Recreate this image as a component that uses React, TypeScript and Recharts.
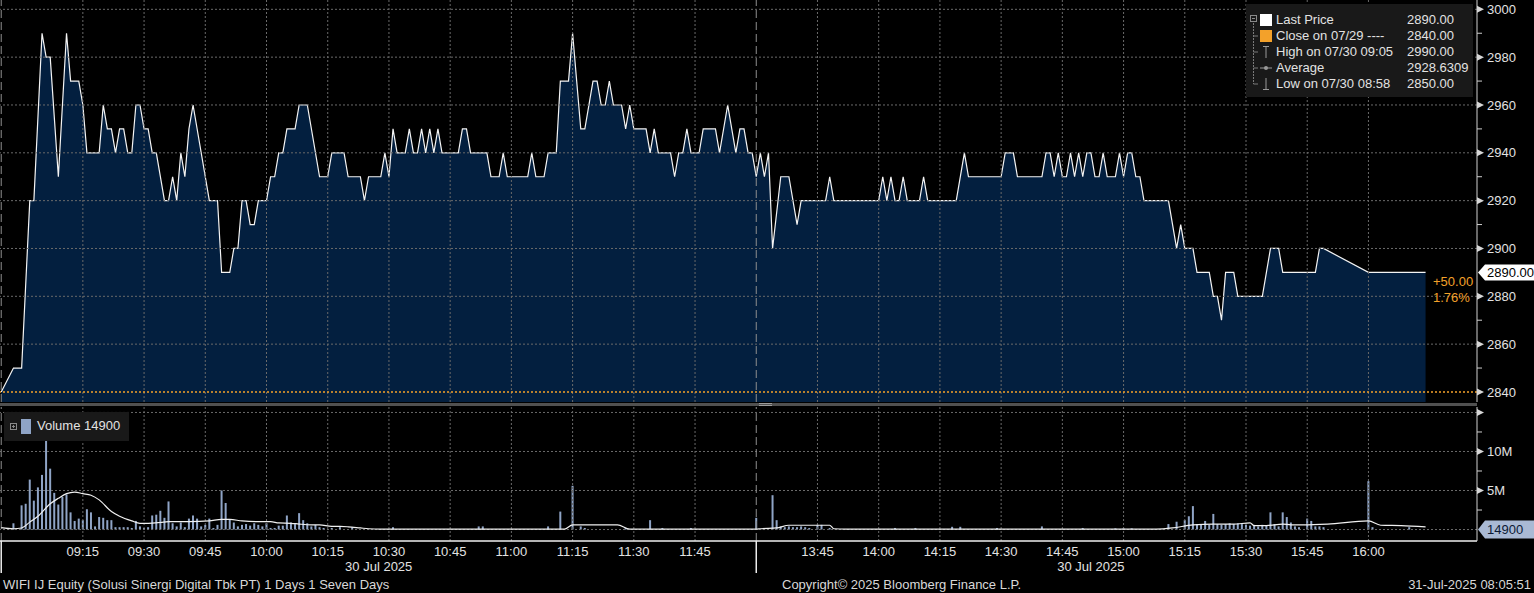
import React from "react";
import { ComposedChart, Area, Bar, Line, XAxis, YAxis, ReferenceLine } from "recharts";

// WIFI IJ, 30 Jul 2025, last price by minute (turning points only)
const morningTimes = [
  "08:55", "08:58", "09:00", "09:02", "09:03", "09:05", "09:06", "09:07", "09:09", "09:11",
  "09:12", "09:14", "09:15", "09:16", "09:19", "09:20", "09:21", "09:22", "09:23", "09:24",
  "09:25", "09:26", "09:27", "09:28", "09:29", "09:30", "09:31", "09:32", "09:33", "09:35",
  "09:36", "09:37", "09:38", "09:39", "09:40", "09:41", "09:42", "09:46", "09:48", "09:49",
  "09:51", "09:52", "09:53", "09:54", "09:55", "09:56", "09:57", "09:58", "10:00", "10:01",
  "10:02", "10:03", "10:04", "10:05", "10:07", "10:08", "10:10", "10:13", "10:15", "10:16",
  "10:19", "10:20", "10:23", "10:24", "10:25", "10:28", "10:29", "10:30", "10:31", "10:32",
  "10:34", "10:35", "10:36", "10:37", "10:38", "10:39", "10:40", "10:41", "10:42", "10:43",
  "10:47", "10:48", "10:49", "10:50", "10:54", "10:55", "10:57", "10:58", "10:59", "11:04",
  "11:05", "11:06", "11:08", "11:09", "11:11", "11:12", "11:14", "11:15", "11:17", "11:18",
  "11:20", "11:21", "11:22", "11:23", "11:24", "11:25", "11:27", "11:28", "11:29", "11:30",
  "11:33", "11:34", "11:35", "11:36", "11:39", "11:40", "11:41", "11:42", "11:43", "11:44",
  "11:46", "11:47", "11:50", "11:51", "11:53", "11:55", "11:56", "11:57", "11:58", "11:59",
  "12:00",
];
const morningPrices = [
  2840, 2850, 2850, 2920, 2920, 2990, 2980, 2980, 2930, 2990,
  2970, 2970, 2960, 2940, 2940, 2960, 2950, 2950, 2940, 2950,
  2950, 2940, 2940, 2960, 2960, 2950, 2950, 2940, 2940, 2920,
  2920, 2930, 2920, 2940, 2930, 2950, 2960, 2920, 2920, 2890,
  2890, 2900, 2900, 2920, 2920, 2910, 2910, 2920, 2920, 2930,
  2930, 2940, 2940, 2950, 2950, 2960, 2960, 2930, 2930, 2940,
  2940, 2930, 2930, 2920, 2930, 2930, 2940, 2930, 2950, 2940,
  2940, 2950, 2940, 2940, 2950, 2940, 2950, 2940, 2950, 2940,
  2940, 2950, 2950, 2940, 2940, 2930, 2930, 2940, 2930, 2930,
  2940, 2930, 2930, 2940, 2940, 2970, 2970, 2990, 2950, 2950,
  2970, 2970, 2960, 2960, 2970, 2960, 2960, 2950, 2960, 2950,
  2950, 2940, 2950, 2940, 2940, 2930, 2940, 2940, 2950, 2940,
  2940, 2950, 2950, 2940, 2960, 2940, 2950, 2950, 2940, 2940,
  2930,
];
const afternoonTimes = [
  "13:31", "13:32", "13:33", "13:34", "13:36", "13:38", "13:40", "13:41", "13:47", "13:48",
  "13:49", "14:00", "14:01", "14:02", "14:03", "14:04", "14:05", "14:06", "14:07", "14:10",
  "14:11", "14:12", "14:19", "14:21", "14:22", "14:30", "14:31", "14:33", "14:34", "14:40",
  "14:41", "14:42", "14:43", "14:44", "14:45", "14:46", "14:47", "14:48", "14:49", "14:50",
  "14:51", "14:52", "14:53", "14:54", "14:55", "14:56", "14:58", "14:59", "15:00", "15:01",
  "15:02", "15:03", "15:04", "15:05", "15:11", "15:13", "15:14", "15:15", "15:17", "15:18",
  "15:21", "15:22", "15:23", "15:24", "15:25", "15:27", "15:28", "15:34", "15:36", "15:38",
  "15:39", "15:47", "15:48", "15:49", "16:00", "16:14",
];
const afternoonPrices = [
  2940, 2930, 2940, 2900, 2930, 2930, 2910, 2920, 2920, 2930,
  2920, 2920, 2930, 2920, 2930, 2920, 2920, 2930, 2920, 2920,
  2930, 2920, 2920, 2940, 2930, 2930, 2940, 2940, 2930, 2930,
  2940, 2940, 2930, 2940, 2930, 2930, 2940, 2930, 2940, 2930,
  2940, 2940, 2930, 2930, 2940, 2930, 2930, 2940, 2930, 2940,
  2940, 2930, 2930, 2920, 2920, 2900, 2910, 2900, 2900, 2890,
  2890, 2880, 2880, 2870, 2890, 2890, 2880, 2880, 2900, 2900,
  2890, 2890, 2900, 2900, 2890, 2890,
];

// volume per minute, millions of shares
const volumeTimes = [
  "08:58", "09:00", "09:01", "09:02", "09:03", "09:04", "09:05", "09:06", "09:07", "09:08",
  "09:09", "09:10", "09:11", "09:12", "09:13", "09:14", "09:15", "09:16", "09:17", "09:18",
  "09:19", "09:20", "09:21", "09:22", "09:23", "09:24", "09:25", "09:26", "09:27", "09:28",
  "09:29", "09:30", "09:31", "09:32", "09:33", "09:34", "09:35", "09:36", "09:37", "09:38",
  "09:39", "09:40", "09:41", "09:42", "09:43", "09:44", "09:45", "09:46", "09:47", "09:48",
  "09:49", "09:50", "09:51", "09:52", "09:53", "09:54", "09:55", "09:56", "09:57", "09:58",
  "09:59", "10:00", "10:01", "10:02", "10:03", "10:04", "10:05", "10:06", "10:07", "10:08",
  "10:09", "10:10", "10:11", "10:12", "10:13", "10:14", "10:16", "10:18", "10:21", "10:31",
  "10:52", "10:53", "11:09", "11:12", "11:15", "11:17", "11:18", "11:28", "11:34", "11:37",
  "11:44", "12:00",
  "13:34", "13:35", "13:36", "13:37", "13:38", "13:39", "13:40", "13:41", "13:42", "13:43",
  "13:45", "13:46", "13:48", "14:04", "14:09", "14:18", "14:20", "14:29", "14:40", "14:50",
  "14:58", "15:00", "15:02", "15:11", "15:13", "15:15", "15:16", "15:17", "15:18", "15:19",
  "15:20", "15:21", "15:22", "15:23", "15:24", "15:25", "15:26", "15:27", "15:28", "15:29",
  "15:30", "15:31", "15:32", "15:33", "15:34", "15:35", "15:36", "15:37", "15:38", "15:39",
  "15:40", "15:41", "15:42", "15:43", "15:45", "15:46", "15:47", "15:48", "15:49", "16:00",
  "16:01", "16:10",
];
const volumeValues = [
  0.8, 3.1, 3.3, 6.4, 3.7, 5.4, 7.0, 14.5, 7.8, 4.7,
  3.2, 4.2, 4.5, 2.2, 1.1, 1.4, 1.2, 2.6, 2.2, 0.4,
  1.6, 1.5, 1.2, 1.2, 0.3, 0.3, 0.3, 0.3, 0.2, 1.1,
  0.4, 0.2, 0.3, 1.8, 1.9, 2.4, 1.5, 3.6, 0.8, 0.4,
  0.9, 0.3, 1.4, 1.8, 1.4, 0.4, 0.6, 1.4, 0.2, 0.6,
  5.0, 3.4, 1.3, 0.9, 0.4, 0.6, 0.7, 0.5, 0.8, 0.6,
  0.4, 0.8, 0.2, 0.2, 0.5, 0.5, 1.8, 0.9, 0.7, 2.1,
  1.2, 0.8, 0.4, 0.6, 0.3, 0.2, 0.2, 0.3, 0.3, 0.3,
  0.4, 0.4, 0.4, 2.3, 5.6, 0.4, 0.2, 0.2, 1.2, 0.2,
  0.2, 1.5,
  4.4, 1.2, 0.4, 0.3, 0.4, 0.3, 0.3, 0.4, 0.3, 0.2,
  0.6, 0.6, 0.2, 0.2, 0.2, 0.35, 0.35, 0.2, 0.4, 0.2,
  0.15, 0.15, 0.15, 0.7, 1.0, 1.2, 1.7, 3.0, 0.7, 0.6,
  1.1, 0.6, 2.0, 0.7, 0.6, 0.7, 0.8, 0.7, 0.8, 0.7,
  0.6, 0.5, 0.6, 0.4, 0.6, 0.5, 2.2, 0.7, 0.4, 2.2,
  1.6, 0.9, 0.4, 0.3, 1.4, 1.1, 0.4, 0.4, 0.3, 6.2,
  0.3, 0.3,
];

// volume moving average, millions
const avgTimes = [
  "08:55", "08:58", "09:00", "09:02", "09:04", "09:07", "09:09", "09:11", "09:13", "09:15",
  "09:17", "09:19", "09:22", "09:24", "09:27", "09:29", "09:31", "09:34", "09:36", "09:41",
  "09:46", "09:49", "09:51", "09:54", "09:58", "10:01", "10:03", "10:06", "10:08", "10:11",
  "10:13", "10:16", "10:18", "10:20", "10:23", "10:25", "10:28", "11:13", "11:15", "11:26",
  "11:29", "12:00", "13:31", "13:35", "13:38", "13:48", "13:49", "13:52", "15:08", "15:12",
  "15:17", "15:22", "15:27", "15:31", "15:32", "15:35", "15:39", "15:41", "15:44", "15:50",
  "16:00", "16:03", "16:08", "16:14",
];
const avgValues = [
  0.25, 0.1, 0.2, 0.95, 1.7, 3.3, 4.0, 4.6, 4.8, 4.6,
  4.4, 3.8, 2.3, 1.7, 1.1, 0.8, 0.8, 0.9, 1.0, 1.0,
  1.1, 1.3, 1.3, 1.1, 1.0, 1.0, 0.85, 0.8, 0.7, 0.6,
  0.6, 0.4, 0.4, 0.35, 0.2, 0.1, 0.05, 0.05, 0.6, 0.6,
  0.05, 0.05, 0.1, 0.2, 0.55, 0.55, 0.1, 0.05, 0.05, 0.2,
  0.6, 0.7, 0.7, 0.85, 0.5, 0.5, 0.7, 0.6, 0.6, 0.7,
  1.1, 0.55, 0.5, 0.35,
];

const timeTicks = [
  "09:15", "09:30", "09:45", "10:00", "10:15", "10:30", "10:45", "11:00", "11:15", "11:30", "11:45",
  "13:45", "14:00", "14:15", "14:30", "14:45", "15:00", "15:15", "15:30", "15:45", "16:00",
];
const sessions = [["08:55", "12:00"], ["13:30", "16:14"]];
const sessionDate = "30 Jul 2025";
const priceTicks = [2840, 2850, 2860, 2870, 2880, 2890, 2900, 2910, 2920, 2930, 2940, 2950, 2960, 2970, 2980, 2990, 3000];
const volumeTicks = [2.5, 5, 7.5, 10, 12.5, 15];

const prevClose = 2840;
const lastPrice = 2890;
const lastVolume = 14900;

const FONT = '"Liberation Sans", Arial, sans-serif';
const TEXT = "#e2e2e2";
const GRID = "#6a6a6a";
const ORANGE = "#f3a12a";
const VOL = "#8fa4c6";

// minutes since 09:00, with the lunch break squeezed out
const toMin = (s: string) => {
  const [h, m] = s.split(":").map(Number);
  const v = h * 60 + m;
  return v <= 720 ? v - 540 : 180 + v - 810;
};
const pad = (n: number) => String(n).padStart(2, "0");
const fmtMin = (t: number) => {
  const v = t <= 180 ? 540 + t : 810 + (t - 180);
  return `${pad(Math.floor(v / 60))}:${pad(v % 60)}`;
};

const xDomain = [-5.3, 356.6];
const priceDomain = [2835.8, 3003.9];
const volumeDomain = [-1.47, 15.7];

const priceData = [
  ...morningTimes.map((s, i) => ({ t: toMin(s), price: morningPrices[i] })),
  ...afternoonTimes.map((s, i) => ({ t: toMin(s), price: afternoonPrices[i] })),
];

const volumeData = (() => {
  const rows = new Map<number, { t: number; vol?: number; avg?: number }>();
  volumeTimes.forEach((s, i) => {
    const t = toMin(s);
    rows.set(t, { ...(rows.get(t) ?? { t }), vol: volumeValues[i] });
  });
  avgTimes.forEach((s, i) => {
    const t = toMin(s);
    rows.set(t, { ...(rows.get(t) ?? { t }), avg: avgValues[i] });
  });
  return [...rows.values()].sort((a, b) => a.t - b.t);
})();

const gridTimes = timeTicks.map(toMin);
const startVals = sessions.map((s) => toMin(s[0]));
const midVals = sessions.map((s) => (toMin(s[0]) + toMin(s[1])) / 2);

const change = lastPrice - prevClose;
const changePct = (change / prevClose) * 100;

const PriceTick = (props: any) => {
  const { x, y, payload } = props;
  const v = payload.value;
  if (v === lastPrice) {
    return (
      <g>
        <path d={`M${x + 1},${y} L${x + 8},${y - 8} L${x + 57},${y - 8} L${x + 57},${y + 8} L${x + 8},${y + 8} Z`} fill="#ffffff" />
        <text x={x + 10} y={y} dy="0.36em" fill="#000" fontSize={13}>{v.toFixed(2)}</text>
        <text x={x - 44} y={y + 9} dy="0.36em" fill={ORANGE} fontSize={13}>{`+${change.toFixed(2)}`}</text>
        <text x={x - 44} y={y + 25} dy="0.36em" fill={ORANGE} fontSize={13}>{`${changePct.toFixed(2)}%`}</text>
      </g>
    );
  }
  if (v % 20 === 0) {
    return (
      <g>
        <path d={`M${x},${y - 3.5} L${x + 7},${y} L${x},${y + 3.5} Z`} fill="#d6d6d6" />
        <text x={x + 10} y={y} dy="0.36em" fill={TEXT} fontSize={13}>{v}</text>
      </g>
    );
  }
  return <line x1={x} x2={x + 5} y1={y} y2={y} stroke="#cfcfcf" />;
};

const VolumeTick = (props: any) => {
  const { x, y, payload } = props;
  const v = payload.value;
  if (v === lastVolume / 1e6) {
    return (
      <g>
        <path d={`M${x + 1},${y} L${x + 8},${y - 9} L${x + 57},${y - 9} L${x + 57},${y + 9} L${x + 8},${y + 9} Z`} fill="#a9b9d4" />
        <text x={x + 10} y={y} dy="0.36em" fill="#0c1a34" fontSize={13}>{lastVolume}</text>
      </g>
    );
  }
  if (v % 5 === 0) {
    return (
      <g>
        <path d={`M${x},${y - 3.5} L${x + 7},${y} L${x},${y + 3.5} Z`} fill="#d6d6d6" />
        {v < 15 && (
          <text x={x + 10} y={y} dy="0.36em" fill={TEXT} fontSize={13}>{`${v}M`}</text>
        )}
      </g>
    );
  }
  return <line x1={x} x2={x + 5} y1={y} y2={y} stroke="#cfcfcf" />;
};

const TimeTick = (props: any) => {
  const { x, y, payload } = props;
  const v = payload.value;
  if (startVals.includes(v)) {
    return <line x1={x} x2={x} y1={y} y2={y + 32} stroke="#ececec" strokeWidth={1.5} />;
  }
  if (midVals.includes(v)) {
    return (
      <text x={x} y={y + 30} textAnchor="middle" fill={TEXT} fontSize={13}>{sessionDate}</text>
    );
  }
  return (
    <text x={x} y={y + 15} textAnchor="middle" fill={TEXT} fontSize={13}>{fmtMin(v)}</text>
  );
};

const gridLinesX = (
  <>
    {gridTimes.map((t) => (
      <ReferenceLine key={`gx${t}`} x={t} stroke={GRID} strokeDasharray="2 2" />
    ))}
    {startVals.map((t) => (
      <ReferenceLine key={`sx${t}`} x={t} stroke="#8e8e8e" strokeDasharray="8 4" />
    ))}
  </>
);

function PriceLegend() {
  const rows = [
    ["Last Price", lastPrice.toFixed(2)],
    [`Close on 07/29 ----`, prevClose.toFixed(2)],
    ["High on 07/30 09:05", "2990.00"],
    ["Average", "2928.6309"],
    ["Low on 07/30 08:58", "2850.00"],
  ];
  return (
    <div
      style={{
        position: "absolute",
        left: 1246,
        top: 4,
        width: 227,
        height: 93,
        background: "#191919",
        color: TEXT,
        fontSize: 13,
      }}
    >
      <svg width={30} height={93} style={{ position: "absolute", left: 0, top: 0 }}>
        <rect x={4.5} y={11.5} width={6} height={6} fill="none" stroke="#8a8a8a" />
        <line x1={6} x2={9} y1={14.5} y2={14.5} stroke="#8a8a8a" />
        <line x1={7.5} x2={7.5} y1={19} y2={80} stroke="#7a7a7a" strokeDasharray="2 1" />
        {[32, 48, 64, 80].map((cy) => (
          <line key={cy} x1={7.5} x2={12} y1={cy} y2={cy} stroke="#7a7a7a" />
        ))}
        <rect x={14} y={10} width={12} height={12} fill="#ffffff" />
        <rect x={14} y={26} width={12} height={12} fill={ORANGE} />
        <line x1={20} x2={20} y1={42} y2={54} stroke="#9a9a9a" />
        <line x1={17} x2={23} y1={42.5} y2={42.5} stroke="#9a9a9a" />
        <line x1={14} x2={26} y1={64} y2={64} stroke="#9a9a9a" />
        <circle cx={20} cy={64} r={2} fill="#9a9a9a" />
        <line x1={20} x2={20} y1={74} y2={86} stroke="#9a9a9a" />
        <line x1={17} x2={23} y1={85.5} y2={85.5} stroke="#9a9a9a" />
      </svg>
      {rows.map(([label, value], i) => (
        <div key={label} style={{ position: "absolute", top: 8 + i * 16, left: 30, lineHeight: "16px", whiteSpace: "pre" }}>
          {label}
          <span style={{ position: "absolute", left: 131 }}>{value}</span>
        </div>
      ))}
    </div>
  );
}

function VolumeLegend() {
  return (
    <div
      style={{
        position: "absolute",
        left: 4,
        top: 412,
        width: 125,
        height: 29,
        background: "#191919",
        color: TEXT,
        fontSize: 13,
      }}
    >
      <svg width={30} height={29} style={{ position: "absolute", left: 0, top: 0 }}>
        <rect x={6.5} y={11.5} width={6} height={6} fill="none" stroke="#8a8a8a" />
        <line x1={8} x2={11} y1={14.5} y2={14.5} stroke="#8a8a8a" />
        <line x1={9.5} x2={9.5} y1={13} y2={16} stroke="#8a8a8a" />
        <rect x={17} y={7} width={10} height={15} fill={VOL} />
      </svg>
      <div style={{ position: "absolute", left: 33, top: 6, lineHeight: "16px" }}>
        Volume {lastVolume}
      </div>
    </div>
  );
}

export default function App() {
  return (
    <div
      style={{
        position: "relative",
        width: 1534,
        height: 593,
        background: "#000",
        overflow: "hidden",
        fontFamily: FONT,
      }}
    >
      <style>{"body{margin:0;background:#000}"}</style>

      <div style={{ position: "absolute", left: 0, top: 0 }}>
        <ComposedChart width={1534} height={403} data={priceData} margin={{ top: 0, right: 0, left: 0, bottom: 1 }}>
          <XAxis dataKey="t" type="number" domain={xDomain} allowDataOverflow hide />
          <YAxis
            orientation="right"
            type="number"
            width={57}
            domain={priceDomain}
            allowDataOverflow
            ticks={[...priceTicks]}
            interval={0}
            tick={<PriceTick />}
            tickLine={false}
            tickSize={0}
            tickMargin={0}
            axisLine={{ stroke: "#d0d0d0" }}
          />
          {priceTicks
            .filter((v) => v % 20 === 0 && v !== prevClose)
            .map((v) => (
              <ReferenceLine key={`gy${v}`} y={v} stroke={GRID} strokeDasharray="2 2" />
            ))}
          {gridLinesX}
          <Area
            dataKey="price"
            type="linear"
            stroke="#f4f4f4"
            strokeWidth={1.2}
            fill="#063873"
            fillOpacity={0.55}
            baseValue="dataMin"
            dot={false}
            activeDot={false}
            isAnimationActive={false}
          />
          <ReferenceLine y={prevClose} stroke={ORANGE} strokeWidth={1.5} strokeDasharray="2 2" />
        </ComposedChart>
      </div>

      <div style={{ position: "absolute", left: 0, top: 403, width: 1477, height: 3, background: "#505050" }} />
      <div style={{ position: "absolute", left: 759, top: 403, width: 13, height: 1, background: "#9a9a9a" }} />
      <div style={{ position: "absolute", left: 759, top: 405, width: 13, height: 1, background: "#9a9a9a" }} />

      <div style={{ position: "absolute", left: 0, top: 406 }}>
        <ComposedChart width={1534} height={171} data={volumeData} margin={{ top: 1, right: 0, left: 0, bottom: 0 }}>
          <XAxis
            dataKey="t"
            type="number"
            domain={xDomain}
            allowDataOverflow
            ticks={[...startVals, ...midVals, ...gridTimes]}
            interval={0}
            tick={<TimeTick />}
            tickLine={false}
            tickSize={0}
            tickMargin={0}
            height={36}
            axisLine={{ stroke: "#f0f0f0", strokeWidth: 1.5 }}
          />
          <YAxis
            orientation="right"
            type="number"
            width={57}
            domain={volumeDomain}
            allowDataOverflow
            ticks={[lastVolume / 1e6, ...volumeTicks]}
            interval={0}
            tick={<VolumeTick />}
            tickLine={false}
            tickSize={0}
            tickMargin={0}
            axisLine={{ stroke: "#d0d0d0" }}
          />
          {[0, 5, 10, 15].map((v) => (
            <ReferenceLine key={`vy${v}`} y={v} stroke={GRID} strokeDasharray="2 2" />
          ))}
          {gridLinesX}
          <Bar dataKey="vol" fill={VOL} barSize={2} isAnimationActive={false} />
          <Line
            dataKey="avg"
            type="monotone"
            stroke="#f0f0f0"
            strokeWidth={1.2}
            dot={false}
            activeDot={false}
            connectNulls
            isAnimationActive={false}
          />
        </ComposedChart>
      </div>

      <PriceLegend />
      <VolumeLegend />

      <div style={{ position: "absolute", left: 3, top: 577, fontSize: 13, lineHeight: "16px", color: "#d8d8d8" }}>
        WIFI IJ Equity (Solusi Sinergi Digital Tbk PT) 1 Days 1 Seven Days
      </div>
      <div style={{ position: "absolute", left: 782, top: 577, fontSize: 13, lineHeight: "16px", color: "#d8d8d8" }}>
        Copyright© 2025 Bloomberg Finance L.P.
      </div>
      <div style={{ position: "absolute", right: 3, top: 577, fontSize: 13, lineHeight: "16px", color: "#d8d8d8" }}>
        31-Jul-2025 08:05:51
      </div>
    </div>
  );
}
